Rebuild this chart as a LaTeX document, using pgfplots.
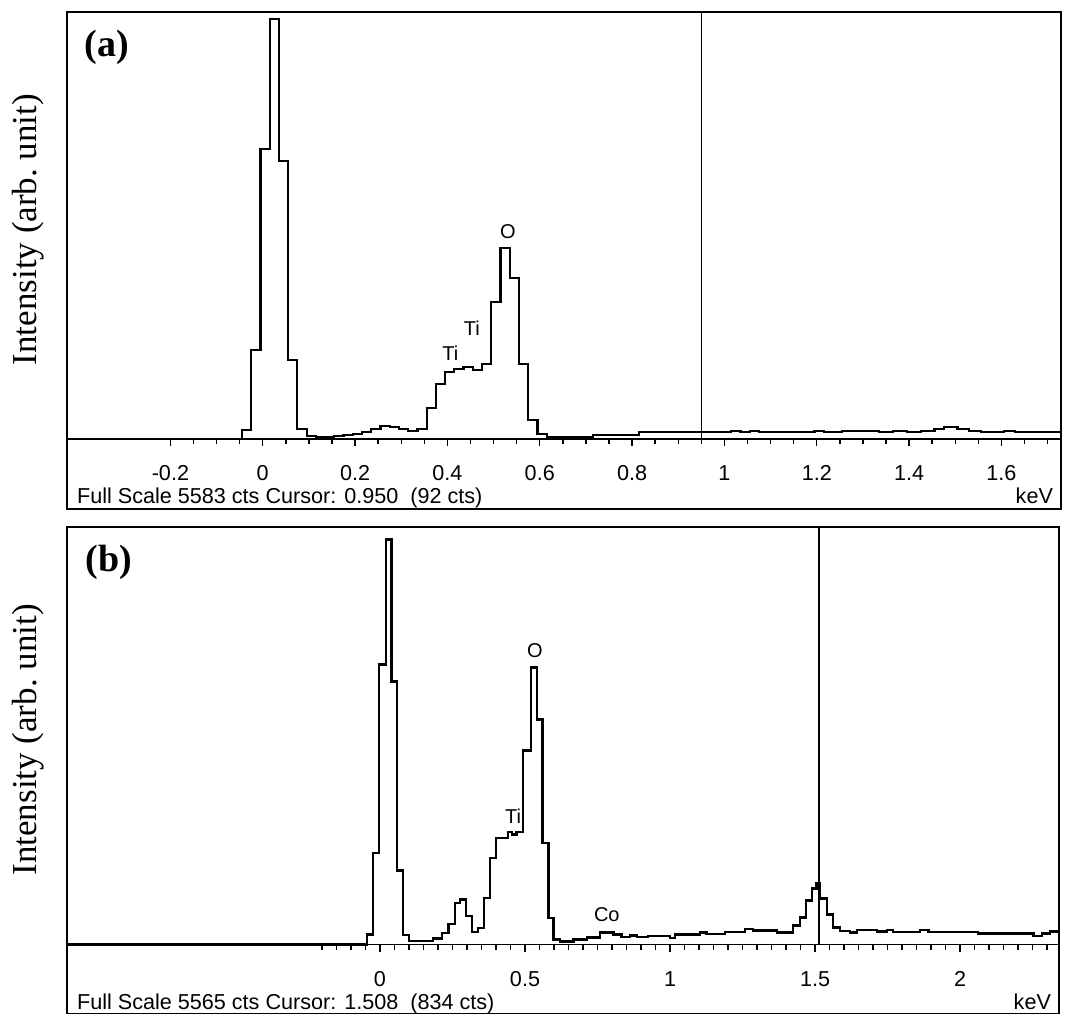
\documentclass[border=0pt]{standalone}
\usepackage{fontspec}
\setmainfont{Liberation Serif}
\newfontfamily\arial{Liberation Sans}
\usepackage{pgfplots}
\pgfplotsset{compat=1.18}

\newcommand\tickfont{\arial\fontsize{10.8}{13}\selectfont}
\newcommand\elfont{\arial\fontsize{10}{12}\selectfont}

\pgfplotsset{
  eds/.style={
    scale only axis, clip=false, anchor=south west,
    axis x line*=bottom, axis y line=none,
    x axis line style={-, line width=0.9pt},
    ymin=0,
    xtick align=outside,
    major tick length=3.5pt, minor tick length=2.5pt,
    every tick/.style={black, line width=0.7pt},
    xticklabel style={font=\tickfont, anchor=base, yshift=-17.25pt},
  },
  spec/.style={black, line width=1.1pt, const plot, mark=none},
  cursor/.style={black, line width=0.75pt, mark=none},
}

\begin{document}
\begin{tikzpicture}
\useasboundingbox (0,0) rectangle (533.5pt,507pt);

% (a)
\begin{axis}[eds,
    at={(33.5pt,287.65pt)}, width=497pt, height=213.35pt,
    xmin=-0.424, xmax=1.729, ymax=426.7,
    xtick={-0.2,0,0.2,0.4,0.6,0.8,1,1.2,1.4,1.6},
    xticklabels={-0.2,0,0.2,0.4,0.6,0.8,1,1.2,1.4,1.6},
    minor xtick={-0.15,-0.1,-0.05,0.05,0.1,0.15,0.25,0.3,0.35,0.45,0.5,0.55,0.65,0.7,0.75,0.85,0.9,0.95,1.05,1.1,1.15,1.25,1.3,1.35,1.45,1.5,1.55,1.65,1.7},
]
\addplot[spec] coordinates {
 (-0.424,0) (-0.045,8.7) (-0.025,88.7) (-0.005,289.7) (0.015,419.7) (0.035,278)
 (0.055,78.7) (0.075,9.5) (0.095,3) (0.115,2) (0.135,1.5) (0.155,3) (0.175,4)
 (0.195,5) (0.215,6.7) (0.235,9.3) (0.255,13) (0.275,12) (0.295,9.3) (0.315,7.5)
 (0.335,10) (0.355,31) (0.375,55) (0.395,67) (0.415,69.5) (0.435,72) (0.455,68.5)
 (0.475,75) (0.495,137) (0.515,190.5) (0.535,160.5) (0.555,75) (0.575,18.5)
 (0.595,4.5) (0.615,1.5) (0.715,4) (0.815,6.3) (1.015,8) (1.035,6.3) (1.055,8)
 (1.075,6.3) (1.195,8) (1.215,6.3) (1.255,8) (1.335,6.3) (1.365,8) (1.395,6.3)
 (1.425,8) (1.455,10) (1.475,11.7) (1.505,10) (1.530,8) (1.555,6.3) (1.605,8)
 (1.630,6.3) (1.729,6.3)
};
\addplot[cursor] coordinates {(0.950,0) (0.950,426.7)};
\draw[line width=0.9pt] ([yshift=-35pt]rel axis cs:0,0) rectangle (rel axis cs:1,1);
\node[font=\elfont] at (axis cs:0.531,206.7) {O};
\node[font=\elfont] at (axis cs:0.4065,85.7) {Ti};
\node[font=\elfont] at (axis cs:0.453,110.7) {Ti};
\node[font=\bfseries\fontsize{19}{22}\selectfont] at (rel axis cs:0.040,0.918) {(a)};
\node[rotate=90, font=\fontsize{17.5}{20}\selectfont] at ([xshift=-19.5pt]rel axis cs:0,0.49) {Intensity (arb.\ unit)};
\node[font=\tickfont, anchor=base west, xshift=1.5pt, yshift=-32.2pt] at (rel axis cs:0,0) {Full Scale 5583 cts Cursor: 0.950\ \ (92 cts)};
\node[font=\tickfont, anchor=base east, xshift=-0.5pt, yshift=-32.2pt] at (rel axis cs:1,0) {keV};
\end{axis}

% (b)
\begin{axis}[eds,
    at={(33.5pt,34.75pt)}, width=496pt, height=208.75pt,
    xmin=-1.079, xmax=2.341, ymax=417.5,
    xtick={0,0.5,1,1.5,2},
    xticklabels={0,0.5,1,1.5,2},
    minor xtick={-0.2,-0.15,...,2.31},
]
\addplot[spec] coordinates {
 (-1.079,0) (-0.046,10) (-0.023,91.7) (-0.002,280) (0.020,405) (0.040,263)
 (0.058,74) (0.078,9.3) (0.100,3.3) (0.184,6) (0.213,11.7) (0.236,20.7)
 (0.258,41.7) (0.276,45) (0.297,28.3) (0.316,12.7) (0.339,16.7) (0.358,46.7)
 (0.379,86.7) (0.400,106.7) (0.442,112.7) (0.454,110) (0.471,112.7) (0.494,194)
 (0.520,277) (0.540,225) (0.560,101.7) (0.581,26.7) (0.598,5) (0.621,3)
 (0.667,5) (0.715,7) (0.759,12) (0.805,10) (0.833,7.5) (0.862,9) (0.885,7.5)
 (0.925,8.5) (1.000,6.5) (1.017,10) (1.103,12) (1.126,10.7) (1.190,12.5)
 (1.259,15.5) (1.287,14) (1.368,12) (1.425,19) (1.448,27) (1.469,44) (1.489,56)
 (1.505,61) (1.517,46) (1.540,30) (1.563,17) (1.586,13.5) (1.621,12) (1.644,14.5)
 (1.713,13) (1.747,14.5) (1.770,12.5) (1.862,14.5) (1.891,12.5) (2.063,11)
 (2.253,8.5) (2.282,11) (2.310,13) (2.341,13)
};
\addplot[cursor] coordinates {(1.514,0) (1.514,417.5)};
\draw[line width=0.9pt] ([yshift=-34.5pt]rel axis cs:0,0) rectangle (rel axis cs:1,1);
\node[font=\elfont] at (axis cs:0.534,293.5) {O};
\node[font=\elfont] at (axis cs:0.459,128.5) {Ti};
\node[font=\elfont] at (axis cs:0.782,29.5) {Co};
\node[font=\bfseries\fontsize{19}{22}\selectfont] at (rel axis cs:0.042,0.916) {(b)};
\node[rotate=90, font=\fontsize{17.5}{20}\selectfont] at ([xshift=-19.5pt]rel axis cs:0,0.49) {Intensity (arb.\ unit)};
\node[font=\tickfont, anchor=base west, xshift=1.5pt, yshift=-32.7pt] at (rel axis cs:0,0) {Full Scale 5565 cts Cursor: 1.508\ \ (834 cts)};
\node[font=\tickfont, anchor=base east, xshift=-0.5pt, yshift=-32.7pt] at (rel axis cs:1,0) {keV};
\end{axis}
\end{tikzpicture}
\end{document}
